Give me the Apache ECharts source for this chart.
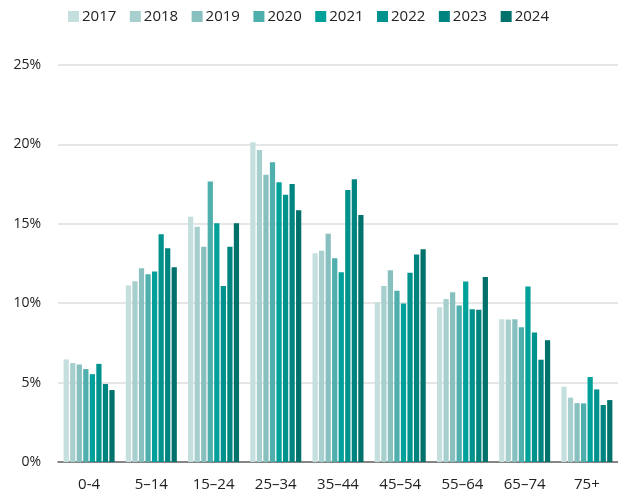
<!DOCTYPE html>
<html>
<head>
<meta charset="utf-8">
<script src="https://cdn.jsdelivr.net/npm/echarts@6/dist/echarts.min.js"></script>
<style>
  html, body { margin: 0; padding: 0; background: #fff; }
  #chart { width: 618px; height: 492px; }
</style>
</head>
<body>
<div id="chart"></div>
<script>
// Age groups along the x axis
const ageGroups = ['0-4', '5–14', '15–24', '25–34', '35–44', '45–54', '55–64', '65–74', '75+'];

// Years shown as separate bar series
const years = ['2017', '2018', '2019', '2020', '2021', '2022', '2023', '2024'];

// Share (%) per age group, one array per year
const v2017 = [6.46, 11.11, 15.45, 20.13, 13.14, 10.06, 9.75, 8.99, 4.74];
const v2018 = [6.23, 11.38, 14.82, 19.64, 13.31, 11.09, 10.27, 8.97, 4.05];
const v2019 = [6.14, 12.20, 13.56, 18.09, 14.38, 12.08, 10.69, 8.99, 3.71];
const v2020 = [5.85, 11.82, 17.67, 18.87, 12.83, 10.78, 9.85, 8.49, 3.69];
const v2021 = [5.53, 11.99, 15.03, 17.61, 11.95, 9.98, 11.36, 11.05, 5.35];
const v2022 = [6.18, 14.34, 11.09, 16.83, 17.13, 11.91, 9.62, 8.16, 4.57];
const v2023 = [4.91, 13.46, 13.56, 17.50, 17.80, 13.06, 9.58, 6.44, 3.59];
const v2024 = [4.53, 12.26, 15.03, 15.85, 15.56, 13.40, 11.65, 7.67, 3.90];
const seriesValues = [v2017, v2018, v2019, v2020, v2021, v2022, v2023, v2024];

// Y axis ticks
const yTicks = [0, 5, 10, 15, 20, 25];

const palette = ['#c4dfdd', '#a7cfce', '#88c0c0', '#4eafad', '#00a19b', '#00938e', '#00847f', '#00716b'];

const font = '"Open Sans", "Noto Sans", sans-serif';

const chart = echarts.init(document.getElementById('chart'), null, { renderer: 'canvas' });

chart.setOption({
  animation: false,
  color: palette,
  legend: {
    top: 4,
    left: 63,
    itemWidth: 11,
    itemHeight: 11,
    itemGap: 13.5,
    icon: 'rect',
    textStyle: { fontFamily: font, fontSize: 15, color: '#222', padding: [0, 0, 0, -2] },
    data: years
  },
  grid: {
    left: 58,
    top: 65,
    width: 564,
    height: 397,
    containLabel: false
  },
  xAxis: {
    type: 'category',
    data: ageGroups,
    axisTick: { show: false },
    axisLine: { lineStyle: { color: '#666', width: 1.5 } },
    axisLabel: { fontFamily: font, fontSize: 15, color: '#222', margin: 15 }
  },
  yAxis: {
    type: 'value',
    min: yTicks[0],
    max: yTicks[yTicks.length - 1],
    interval: 5,
    axisLine: { show: false },
    axisTick: { show: false },
    splitLine: { lineStyle: { color: '#dedede', width: 1.5 } },
    axisLabel: {
      fontFamily: font, fontSize: 14, color: '#222', margin: 17,
      formatter: v => v + '%'
    }
  },
  series: years.map((y, i) => ({
    name: y,
    type: 'bar',
    data: seriesValues[i],
    barGap: '25%',
    barCategoryGap: '18%'
  }))
});
</script>
</body>
</html>
